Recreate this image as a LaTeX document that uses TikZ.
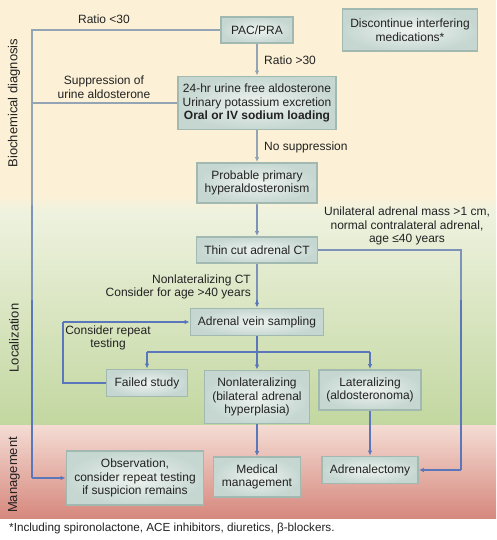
\documentclass[tikz,border=0pt]{standalone}
\usepackage{fontspec}
\setmainfont{Liberation Sans}
\usetikzlibrary{arrows.meta}
\definecolor{bgyellow}{HTML}{FCF1D6}
\definecolor{greentop}{HTML}{EEF2DF}
\definecolor{greenbot}{HTML}{C2D7A0}
\definecolor{redtop}{HTML}{F4DCD4}
\definecolor{redbot}{HTML}{D6887D}
\definecolor{boxin}{HTML}{EEF3F0}
\definecolor{boxout}{HTML}{C6D7D1}
\definecolor{boxedge}{HTML}{A2B9B2}
\definecolor{txt}{HTML}{222222}
\definecolor{lineA}{HTML}{93A4B4}
\definecolor{lineB}{HTML}{7D93BA}
\definecolor{lineC}{HTML}{5B77BC}
\newcommand{\myconns}[1]{%
  \begin{scope}[draw=#1, line width=1.3pt, arr/.style={-{Latex[length=5pt,width=4.5pt]}}]
    \draw (pac.west) -- (LT) -- (LB);
    \draw[arr] (LB) -- (obs.west);
    \draw (urine.west) -- (LM);
    \draw[arr] (pac.south) -- (urine.north);
    \draw[arr] (urine.south) -- (prob.north);
    \draw[arr] (prob.south) -- (ct.north);
    \draw[arr] (ct.south) -- (avs.north);
    \draw (ct.east) -- (RT) -- (RB);
    \draw[arr] (RB) -- (adr.east);
    \draw[arr] (avs.south) -- (nonlat.north);
    \draw (SL) -- (SR);
    \draw[arr] (SL) -- (failed.north);
    \draw[arr] (SR) -- (lat.north);
    \draw (failed.west) -- (FL) -- (FT);
    \draw[arr] (FT) -- (avs.west);
    \draw[arr] (nonlat.south) -- (med.north);
    \draw[arr] (lat.south) -- (adr.north);
  \end{scope}}
\begin{document}
\begin{tikzpicture}[x=1pt,y=-1pt,
  font=\fontsize{12}{13.5}\selectfont, text=txt,
  box/.style={draw=boxedge, line width=1.8pt, inner color=boxin, outer color=boxout,
     align=center, inner sep=2pt},
  lbl/.style={align=center, inner sep=0pt},
  band/.style={rotate=90, inner sep=0pt, text=txt, font=\fontsize{13}{15}\selectfont}]
\useasboundingbox (0,0) rectangle (496,540);
\fill[white] (0,0) rectangle (496,540);
\fill[bgyellow] (0,0) rectangle (496,196);
\shade[top color=bgyellow, bottom color=greentop] (0,195) rectangle (496,212);
\shade[top color=greentop, bottom color=greenbot] (0,211.5) rectangle (496,425);
\shade[top color=redtop, bottom color=redbot] (0,425) rectangle (496,518);

\node[band] (b1) at (14,103) {Biochemical diagnosis};
\node[band] (b2) at (14,338) {Localization};
\node[band] (b3) at (14,475) {Management};

\node[box, minimum width=72pt, minimum height=26pt] (pac) at (257,30) {PAC/PRA};
\node[box, minimum width=135pt, minimum height=42pt] (disc) at (410,30) {Discontinue interfering\\medications*};
\node[box, minimum width=158pt, minimum height=53pt] (urine) at (257,103)
  {24-hr urine free aldosterone\\Urinary potassium excretion\\\textbf{Oral or IV sodium loading}};
\node[box, minimum width=120pt, minimum height=40pt] (prob) at (257,183) {Probable primary\\hyperaldosteronism};
\node[box, minimum width=121pt, minimum height=26pt] (ct) at (257,250) {Thin cut adrenal CT};
\node[box, minimum width=133pt, minimum height=27pt] (avs) at (257,322) {Adrenal vein sampling};
\node[box, minimum width=81pt, minimum height=27pt] (failed) at (147,383) {Failed study};
\node[box, minimum width=105pt, minimum height=53pt] (nonlat) at (257,397) {Nonlateralizing\\(bilateral adrenal\\hyperplasia)};
\node[box, minimum width=102pt, minimum height=40pt] (lat) at (370,390) {Lateralizing\\(aldosteronoma)};
\node[box, minimum width=137pt, minimum height=54pt] (obs) at (135,478) {Observation,\\consider repeat testing\\if suspicion remains};
\node[box, minimum width=87pt, minimum height=40pt] (med) at (257,477) {Medical\\management};
\node[box, minimum width=96pt, minimum height=27pt] (adr) at (370,470) {Adrenalectomy};

\coordinate (LT) at (32,30);
\coordinate (LB) at (32,478);
\coordinate (LM) at (32,103);
\coordinate (RT) at (461,250);
\coordinate (RB) at (461,470);
\coordinate (SL) at (147,352);
\coordinate (SR) at (370,352);
\coordinate (FL) at (63,383);
\coordinate (FT) at (63,322);

\begin{scope}
  \clip (0,0) rectangle (496,205);
  \myconns{lineA}
\end{scope}
\begin{scope}
  \clip (0,205) rectangle (496,300);
  \myconns{lineB}
\end{scope}
\begin{scope}
  \clip (0,300) rectangle (496,540);
  \myconns{lineC}
\end{scope}

\node[lbl] (l1) at (104,19) {Ratio <30};
\node[lbl] (l2) at (104,87) {Suppression of\\urine aldosterone};
\node[lbl, anchor=west] (l3) at (264,60) {Ratio >30};
\node[lbl, anchor=west] (l4) at (264,147) {No suppression};
\node[lbl, align=right, anchor=east] (l5) at (251,287) {Nonlateralizing CT\\Consider for age >40 years};
\node[lbl] (l6) at (407,226) {Unilateral adrenal mass >1 cm,\\normal contralateral adrenal,\\age ≤40 years};
\node[lbl] (l7) at (108,338) {Consider repeat\\testing};
\node[lbl, anchor=west, font=\fontsize{11.7}{13}\selectfont] (fn) at (9,528) {*Including spironolactone, ACE inhibitors, diuretics, β-blockers.};
\end{tikzpicture}
\end{document}
